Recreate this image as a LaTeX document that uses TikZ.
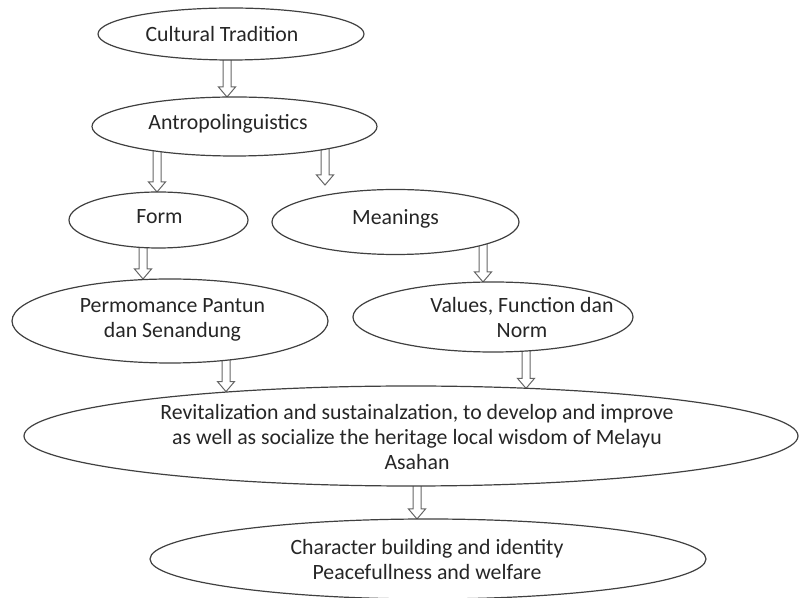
\documentclass[tikz,border=0pt]{standalone}
\usepackage{fontspec}
\setmainfont{Carlito}
\usetikzlibrary{shapes.geometric,calc,backgrounds}

\tikzset{
  oval/.style={ellipse, draw=black!75, fill=white, line width=0.6pt, inner sep=0pt, outer sep=0pt},
  txt/.style={align=center, text=black!85, font=\fontsize{10.9}{12.5}\selectfont},
  hollow/.style={draw=black!60, line width=0.5pt, to path={
    ($(\tikztostart)+(-2pt,0pt)$) -- ($(\tikztostart |- \tikztotarget)+(-2pt,5pt)$)
    -- ($(\tikztostart |- \tikztotarget)+(-4.25pt,5pt)$) -- (\tikztostart |- \tikztotarget)
    -- ($(\tikztostart |- \tikztotarget)+(4.25pt,5pt)$) -- ($(\tikztostart |- \tikztotarget)+(2pt,5pt)$)
    -- ($(\tikztostart)+(2pt,0pt)$)}}
}

\begin{document}
\begin{tikzpicture}[x=0.5pt,y=-0.5pt]
\useasboundingbox (0,0) rectangle (799,598);

\node[oval, minimum width=133pt, minimum height=26pt] (ct) at (231,34) {};
\node[txt] (ctt) at (222,34) {Cultural Tradition};

\node[oval, minimum width=142.5pt, minimum height=29.5pt] (an) at (234.5,126.5) {};
\node[txt] (ant) at (228,124) {Antropolinguistics};

\node[oval, minimum width=89.5pt, minimum height=28pt] (fo) at (158.5,220) {};
\node[txt] (fot) at (159.5,217) {Form};

\node[oval, minimum width=123.5pt, minimum height=32.5pt] (me) at (395.5,222) {};
\node[txt] (met) at (395.5,219) {Meanings};

\node[oval, minimum width=158pt, minimum height=42pt] (pe) at (170,321) {};
\node[txt] (pet) at (172.5,320) {Permomance Pantun\\dan Senandung};

\node[oval, minimum width=140pt, minimum height=35pt] (va) at (493,317) {};
\node[txt] (vat) at (522,318) {Values, Function dan\\Norm};

\node[oval, minimum width=387pt, minimum height=50pt] (re) at (411,436) {};
\node[txt] (ret) at (417,437) {Revitalization and sustainalzation, to develop and improve\\as well as socialize the heritage local wisdom of Melayu\\Asahan};

\node[oval, minimum width=278pt, minimum height=40pt] (ch) at (428,559) {};
\node[txt] (cht) at (427,560) {Character building and identity\\Peacefullness and welfare};

\coordinate (gap) at (325,185);

\begin{scope}[on background layer]
\draw[hollow] ([xshift=-2pt]ct.center) to (an.north);
\draw[hollow] ([xshift=-38.75pt]an.center) to (fo.north);
\draw[hollow] (an.center -| gap) to (gap);
\draw[hollow] ([xshift=-7.75pt]fo.center) to (pe.north);
\draw[hollow] ([xshift=43.75pt]me.center) to (va.north);
\draw[hollow] ([xshift=28pt]pe.center) to (re.166.7);
\draw[hollow] ([xshift=16.5pt]va.center) to (re.22.5);
\draw[hollow] ([xshift=3pt]re.center) to (ch.north);
\end{scope}
\end{tikzpicture}
\end{document}
